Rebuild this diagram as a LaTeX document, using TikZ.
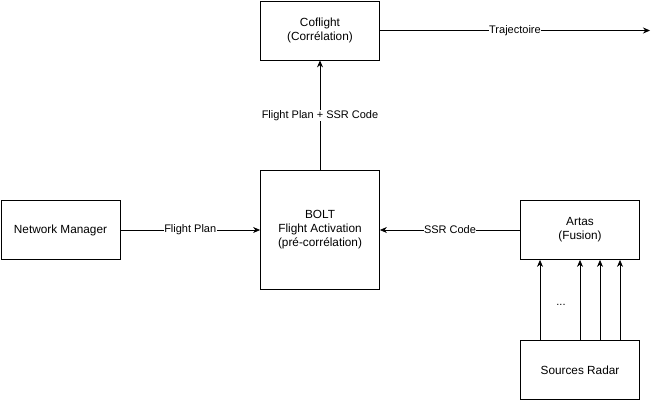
\documentclass[tikz,border=0pt]{standalone}
\usepackage{fontspec}
\setmainfont{Liberation Sans}
\usetikzlibrary{arrows.meta}

\begin{document}
\begin{tikzpicture}[x = 1pt, y = -1pt]
\tikzstyle{BoxStyle}=[shape = rectangle,
                      minimum width = 119pt,
                      minimum height = 59pt,
                      line width = 0.8pt,
                      align = center,
                      font = \fontsize{11.8}{14}\selectfont,
                      draw]
\tikzstyle{LabelStyle}=[fill = white,
                        inner sep = 0.5pt,
                        font = \fontsize{11}{13}\selectfont]
\tikzstyle{post}=[-{Stealth[length = 7pt, width = 6pt]}, line width = 0.8pt]
\useasboundingbox (0,0) rectangle (659,402);
\node[BoxStyle] (coflight) at (320, 30.5) {Coflight\\(Corrélation)};
\node[BoxStyle, minimum height = 119pt] (bolt) at (320, 230) {BOLT\\Flight Activation\\(pré-corrélation)};
\node[BoxStyle] (nm) at (60.5, 230) {Network Manager};
\node[BoxStyle] (artas) at (580, 230) {Artas\\(Fusion)};
\node[BoxStyle] (radar) at (580, 370) {Sources Radar};
\coordinate (traj) at (650, 30.5);
\node[font = \fontsize{11}{13}\selectfont] (dots) at (561, 305) {...};
\draw[post] (coflight) -- (traj) node[LabelStyle, pos = 0.5] {Trajectoire};
\draw[post] (bolt) -- (coflight) node[LabelStyle, pos = 0.5] {Flight Plan + SSR Code};
\draw[post] (nm) -- (bolt) node[LabelStyle, pos = 0.5] {Flight Plan};
\draw[post] (artas) -- (bolt) node[LabelStyle, pos = 0.5] {SSR Code};
\foreach \x in {540, 580, 600, 620}
  \draw[post] (radar.north -| \x, 0) -- (artas.south -| \x, 0);
\end{tikzpicture}
\end{document}
